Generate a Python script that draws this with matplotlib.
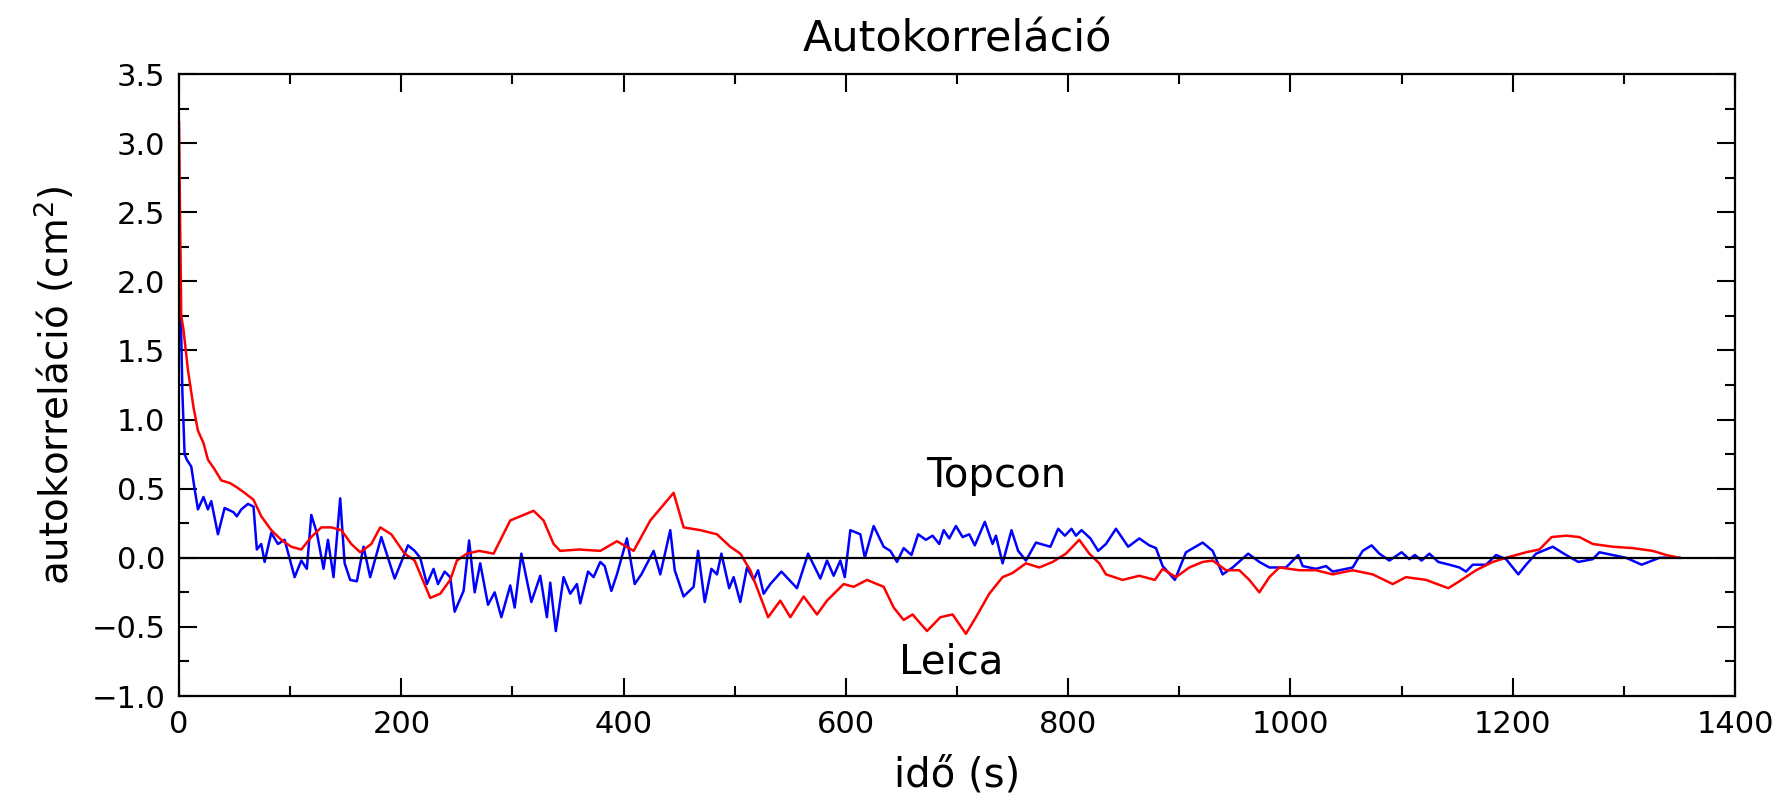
import numpy as np
from matplotlib import pyplot as plt
from matplotlib.ticker import MultipleLocator

# Topcon (blue) autocorrelation
topcon_t = [0, 1, 2, 3, 5, 7, 11, 14, 17, 22, 26, 29, 35, 41, 49, 52, 56, 62, 67, 70,
            74, 77, 83, 89, 95, 100, 104, 110, 115, 119, 124, 130, 134, 139, 145, 149,
            154, 160, 166, 172, 182, 194, 206, 212, 217, 223, 229, 233, 239, 244, 248,
            256, 261, 266, 271, 278, 284, 290, 298, 302, 308, 317, 325, 331, 334, 339,
            346, 352, 358, 361, 368, 373, 379, 383, 389, 394, 403, 410, 416, 427, 433,
            442, 446, 454, 463, 467, 473, 479, 484, 488, 495, 499, 505, 511, 517, 521,
            526, 532, 542, 556, 566, 577, 583, 589, 595, 599, 604, 613, 617, 625, 634,
            640, 646, 652, 659, 665, 672, 678, 684, 688, 693, 699, 705, 711, 716, 725,
            732, 735, 741, 749, 755, 762, 771, 784, 791, 797, 803, 807, 812, 820, 827,
            834, 843, 854, 864, 873, 879, 885, 896, 906, 921, 930, 939, 948, 962, 972,
            981, 996, 1007, 1011, 1023, 1032, 1038, 1056, 1065, 1073, 1080, 1089, 1100,
            1107, 1112, 1118, 1125, 1133, 1143, 1152, 1158, 1164, 1176, 1185, 1194, 1205,
            1212, 1221, 1236, 1248, 1259, 1272, 1278, 1290, 1302, 1316, 1332, 1350]
topcon_v = [2.65, 2.0, 1.6, 1.2, 0.75, 0.71, 0.66, 0.5, 0.35, 0.44, 0.35, 0.41, 0.17, 0.36,
            0.33, 0.30, 0.35, 0.39, 0.37, 0.06, 0.10, -0.03, 0.18, 0.10, 0.13, -0.02, -0.14,
            -0.02, -0.08, 0.31, 0.18, -0.08, 0.13, -0.14, 0.43, -0.04, -0.16, -0.17, 0.08,
            -0.14, 0.15, -0.15, 0.09, 0.05, 0.0, -0.19, -0.08, -0.19, -0.10, -0.14, -0.39,
            -0.24, 0.125, -0.25, -0.04, -0.34, -0.25, -0.43, -0.20, -0.36, 0.03, -0.32,
            -0.13, -0.43, -0.18, -0.53, -0.14, -0.26, -0.19, -0.33, -0.10, -0.14, -0.03,
            -0.06, -0.24, -0.12, 0.14, -0.19, -0.12, 0.05, -0.12, 0.20, -0.09, -0.28, -0.21,
            0.05, -0.32, -0.08, -0.12, 0.03, -0.22, -0.14, -0.32, -0.07, -0.16, -0.09, -0.26,
            -0.19, -0.10, -0.22, 0.03, -0.15, -0.02, -0.13, -0.02, -0.14, 0.20, 0.17, 0.0,
            0.23, 0.08, 0.05, -0.03, 0.07, 0.02, 0.17, 0.13, 0.16, 0.10, 0.20, 0.14, 0.23,
            0.15, 0.17, 0.09, 0.26, 0.10, 0.16, -0.04, 0.20, 0.05, -0.02, 0.11, 0.08, 0.21,
            0.16, 0.21, 0.16, 0.20, 0.14, 0.05, 0.10, 0.21, 0.08, 0.14, 0.09, 0.07, -0.06,
            -0.16, 0.04, 0.11, 0.05, -0.12, -0.07, 0.03, -0.03, -0.07, -0.07, 0.02, -0.06,
            -0.08, -0.06, -0.10, -0.07, 0.05, 0.09, 0.03, -0.02, 0.04, -0.01, 0.02, -0.02,
            0.03, -0.03, -0.05, -0.07, -0.10, -0.05, -0.05, 0.02, -0.01, -0.12, -0.05, 0.03,
            0.08, 0.02, -0.03, -0.01, 0.04, 0.02, 0.0, -0.05, 0.0, 0.0]

# Leica (red) autocorrelation
leica_t = [0, 1, 2, 4, 8, 13, 17, 22, 26, 32, 38, 46, 52, 59, 67, 74, 83, 92, 101, 110,
           119, 128, 137, 146, 155, 163, 173, 181, 191, 203, 212, 226, 235, 244, 250, 259,
           270, 283, 298, 319, 328, 337, 343, 360, 379, 394, 409, 424, 445, 454, 469, 484,
           496, 505, 514, 523, 530, 541, 550, 562, 574, 583, 598, 607, 619, 634, 643, 652,
           660, 673, 685, 696, 708, 717, 729, 741, 750, 762, 774, 786, 798, 810, 819, 828,
           834, 849, 864, 878, 885, 897, 909, 921, 930, 942, 954, 963, 972, 981, 990, 1008,
           1023, 1038, 1056, 1074, 1092, 1104, 1122, 1142, 1152, 1167, 1182, 1194, 1212,
           1224, 1235, 1248, 1260, 1272, 1290, 1308, 1326, 1338, 1350]
leica_v = [3.15, 2.4, 1.75, 1.65, 1.36, 1.09, 0.92, 0.83, 0.71, 0.64, 0.56, 0.54, 0.51, 0.47,
           0.42, 0.30, 0.20, 0.13, 0.08, 0.06, 0.15, 0.22, 0.22, 0.20, 0.10, 0.04, 0.10, 0.22,
           0.17, 0.03, -0.02, -0.29, -0.26, -0.16, -0.02, 0.03, 0.05, 0.03, 0.27, 0.34, 0.27,
           0.10, 0.05, 0.06, 0.05, 0.12, 0.05, 0.27, 0.47, 0.22, 0.20, 0.17, 0.08, 0.03, -0.09,
           -0.28, -0.43, -0.31, -0.43, -0.28, -0.41, -0.31, -0.19, -0.21, -0.16, -0.21, -0.36,
           -0.45, -0.41, -0.53, -0.43, -0.41, -0.55, -0.43, -0.26, -0.14, -0.11, -0.04, -0.07,
           -0.03, 0.03, 0.13, 0.03, -0.04, -0.12, -0.16, -0.13, -0.16, -0.08, -0.14, -0.07,
           -0.03, -0.02, -0.09, -0.09, -0.16, -0.25, -0.14, -0.07, -0.09, -0.09, -0.12, -0.09,
           -0.12, -0.19, -0.14, -0.16, -0.22, -0.17, -0.09, -0.03, 0.0, 0.04, 0.06, 0.15,
           0.16, 0.15, 0.10, 0.08, 0.07, 0.05, 0.02, 0.0]

plt.rcParams['font.family'] = ['DejaVu Sans']
plt.rcParams['font.size'] = 22

fig = plt.figure(figsize=(17.85, 8.05), dpi=100)
ax = fig.add_axes([0.1003, 0.1354, 0.8717, 0.7726])

ax.plot(topcon_t, topcon_v, color='#0000ff', lw=1.8)
ax.plot(leica_t, leica_v, color='#ff0000', lw=1.8)
ax.axhline(0, color='black', lw=1.6)

ax.text(735, 0.59, 'Topcon', ha='center', va='center', fontsize=29)
ax.text(695, -0.76, 'Leica', ha='center', va='center', fontsize=29)

ax.set_xlim(0, 1400)
ax.set_ylim(-1.0, 3.5)
ax.xaxis.set_major_locator(MultipleLocator(200))
ax.xaxis.set_minor_locator(MultipleLocator(100))
ax.yaxis.set_major_locator(MultipleLocator(0.5))
ax.yaxis.set_minor_locator(MultipleLocator(0.25))
ax.yaxis.set_major_formatter(plt.FuncFormatter(lambda v, p: '{:.1f}'.format(v).replace('-', '\u2212')))
ax.tick_params(which='both', direction='in', top=True, right=True, width=1.5)
ax.tick_params(which='major', length=13, pad=10)
ax.tick_params(which='minor', length=7)
for s in ax.spines.values():
    s.set_linewidth(1.6)

ax.set_title('Autokorreláció', fontsize=31, pad=16)
ax.set_xlabel('idő (s)', fontsize=29, labelpad=12)
ax.set_ylabel('autokorreláció (cm$^2$)', fontsize=28, labelpad=10)

fig.savefig('out.png', dpi=100)
